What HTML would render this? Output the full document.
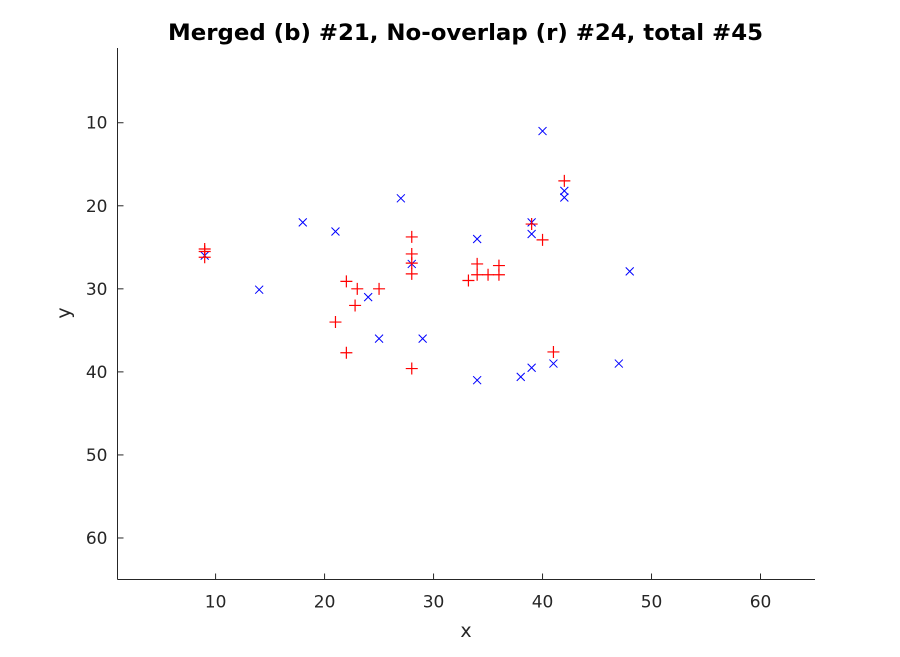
<!DOCTYPE html>
<html><head><meta charset="utf-8"><style>
body{margin:0;background:#fff}
svg text{font-family:"DejaVu Sans","Liberation Sans",sans-serif;fill:#262626}
</style></head><body>
<svg id="chart" width="900" height="652" xmlns="http://www.w3.org/2000/svg">
<rect width="900" height="652" fill="#fff"/>
<text x="465.5" y="40" text-anchor="middle" font-size="22" font-weight="bold" style="fill:#000" textLength="595" lengthAdjust="spacingAndGlyphs">Merged (b) #21, No-overlap (r) #24, total #45</text>
<g id="axes"></g>
<g id="marks"></g>
<text x="466" y="637" text-anchor="middle" font-size="19">x</text>
<text x="0" y="0" transform="translate(70,313) rotate(-90)" text-anchor="middle" font-size="19">y</text>
</svg>
<script>
const xTicks=[10,20,30,40,50,60];
const yTicks=[10,20,30,40,50,60];
const blueX=[27,18,21,9,14,24,25,29,28,34,34,38,40,42,42,39,39,48,41,39,47];
const blueY=[19.1,22,23.1,26,30.1,31,36,36,27,24,41,40.6,11,18.2,19,22,23.4,27.9,39,39.5,39];
const redX=[9,9,9,28,28,28,28,22,23,25,22.8,21,22,28,34,33.2,34,35,36,36,42,39,40,41];
const redY=[25.2,25.5,26.2,23.75,25.8,26.9,28.2,29.1,30,30,32,34,37.7,39.6,27,29,28.3,28.3,28.3,27.2,17,22.2,24.1,37.6];
const X0=1,X1=65,Y0=1,Y1=65,L=117.5,R=815,T=48,B=579.5;
const sx=v=>L+(v-X0)/(X1-X0)*(R-L);
const sy=v=>T+(v-Y0)/(Y1-Y0)*(B-T);
const NS='http://www.w3.org/2000/svg';
const ax=document.getElementById('axes'),mk=document.getElementById('marks');
function mkEl(tag,attrs,parent){const e=document.createElementNS(NS,tag);for(const k in attrs)e.setAttribute(k,attrs[k]);parent.appendChild(e);return e;}
let e=mkEl('line',{x1:L,y1:T,x2:L,y2:B,stroke:'#262626','stroke-width':1},ax);


e=mkEl('line',{x1:L,y1:B,x2:R,y2:B,stroke:'#262626','stroke-width':1},ax);


xTicks.forEach(t=>{
 const x=sx(t);
 let l=mkEl('line',{x1:x,y1:B,x2:x,y2:B-6,stroke:'#262626'},ax);
 
 
 let tx=mkEl('text',{x:x,y:B+28,'text-anchor':'middle','font-size':17},ax);tx.textContent=t;
 
 
});
yTicks.forEach(t=>{
 const y=sy(t);
 let l=mkEl('line',{x1:L,y1:y,x2:L+6,y2:y,stroke:'#262626'},ax);
 
 
 let tx=mkEl('text',{x:L-10,y:y+6,'text-anchor':'end','font-size':17},ax);tx.textContent=t;
 
 
});
const s=6;
blueX.forEach((v,i)=>{
 const x=sx(v),y=sy(blueY[i]),d=4;
 const p=mkEl('path',{d:`M${x-d},${y-d}L${x+d},${y+d}M${x-d},${y+d}L${x+d},${y-d}`,stroke:'#0000ff','stroke-width':1,fill:'none'},mk);
 
 
});
redX.forEach((v,i)=>{
 const x=sx(v),y=sy(redY[i]);
 const p=mkEl('path',{d:`M${x-s},${y}L${x+s},${y}M${x},${y-s}L${x},${y+s}`,stroke:'#ff0000','stroke-width':1.2,fill:'none'},mk);
 
 
});
</script>
</body></html>
